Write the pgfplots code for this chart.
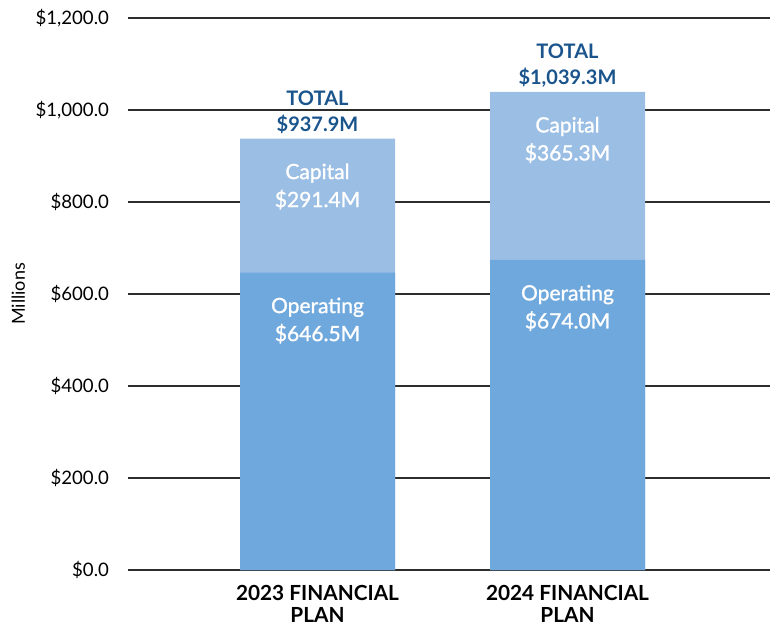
\documentclass[border=0pt]{standalone}
\usepackage{fontspec}
\setmainfont{Lato}
\newfontfamily\semib{Lato}[FakeBold=1.2]
\usepackage{pgfplots}
\pgfplotsset{compat=1.18}
\definecolor{opcol}{RGB}{111,168,220}
\definecolor{capcol}{RGB}{155,191,228}
\definecolor{totcol}{RGB}{26,84,140}
\definecolor{gridcol}{RGB}{45,45,45}
\begin{document}
\begin{tikzpicture}
\begin{axis}[
    scale only axis, width=321pt, height=276pt,
    ybar, bar width=77.5pt,
    xmin=-0.758, xmax=1.81, ymin=0, ymax=1200,
    xtick={0,1},
    xticklabels={2023 FINANCIAL\\PLAN, 2024 FINANCIAL\\PLAN},
    xticklabel style={align=center, yshift=-4pt, font=\fontsize{10.4}{11}\selectfont\bfseries},
    ytick={0,200,...,1200},
    yticklabels={\$0.0,\$200.0,\$400.0,\$600.0,\$800.0,{\$1,000.0},{\$1,200.0}},
    yticklabel style={font=\fontsize{9.3}{10}\selectfont, xshift=-6pt},
    ylabel={Millions},
    ylabel style={at={(axis description cs:-0.171,0.5)}, anchor=center, font=\fontsize{9}{10}\selectfont},
    axis line style={draw=none},
    major tick length=0pt,
    ymajorgrids, grid style={gridcol, line width=1pt},
    point meta=explicit,
    /pgf/number format/assume math mode=true,
    /pgf/number format/.cd, fixed, fixed zerofill, precision=1, 1000 sep={,},
]
% capital sits on top of operating: drawn as a bar up to the plan total
\addplot[fill=capcol, draw=none, bar shift=0pt,
    nodes near coords={Capital\\\$\pgfmathprintnumber{\pgfplotspointmeta}M},
    nodes near coords style={anchor=center, yshift=-24pt, align=center, white,
        font=\fontsize{10.5}{14}\selectfont\semib}]
    coordinates {(0,937.9) [291.4] (1,1039.3) [365.3]};
\addplot[fill=opcol, draw=none, bar shift=0pt,
    nodes near coords={Operating\\\$\pgfmathprintnumber{\pgfplotspointmeta}M},
    nodes near coords style={anchor=center, yshift=-24pt, align=center, white,
        font=\fontsize{10.5}{14}\selectfont\semib}]
    coordinates {(0,646.5) [646.5] (1,674.0) [674.0]};
\addplot[fill=none, draw=none, bar shift=0pt,
    nodes near coords={TOTAL\\\$\pgfmathprintnumber{\pgfplotspointmeta}M},
    nodes near coords style={anchor=center, yshift=13pt, align=center, totcol,
        font=\fontsize{10}{13}\selectfont\bfseries}]
    coordinates {(0,937.9) [937.9] (1,1039.3) [1039.3]};
\end{axis}
\pgfresetboundingbox
\useasboundingbox (-64pt,-29pt) rectangle (321pt,285pt);
\end{tikzpicture}
\end{document}
